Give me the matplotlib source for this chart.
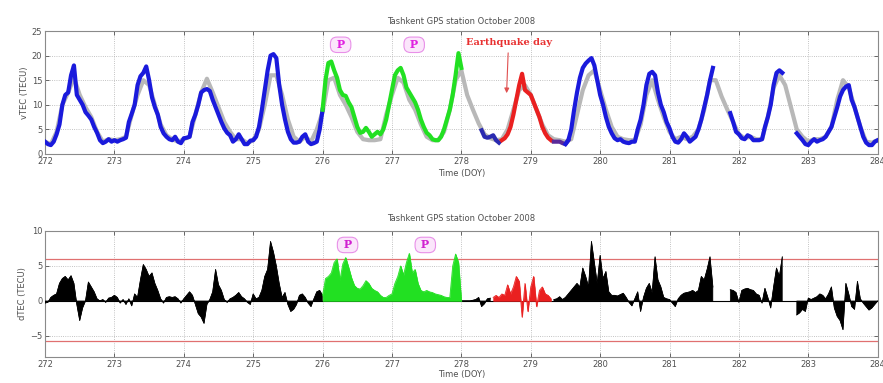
import numpy as np
import matplotlib
matplotlib.use("Agg")
import matplotlib.pyplot as plt

nan = np.nan

# vTEC hourly values, one row per day (DOY 272 ... 283, last value = 284.0)
vtec = [
    2.5, 2.0, 1.8, 2.5, 4.0, 6, 10, 12, 12.5, 16, 18, 12, 11, 10, 8.5, 7.8, 7, 5.5, 4.3, 2.8, 2.2, 2.5, 3.0, 2.5,
    2.8, 2.5, 2.8, 3.0, 3.3, 6.5, 8.2, 10, 14, 15.8, 16.5, 17.8, 15, 11.5, 9.5, 8, 5.5, 4.2, 3.5, 3.0, 2.8, 3.5, 2.5, 2.2,
    3.2, 3.3, 3.5, 6.5, 8, 10, 12.5, 13, 13.2, 12.8, 11, 9.5, 8, 6.5, 5.2, 4.3, 3.8, 2.5, 3, 4.0, 3.0, 2.0, 2.0, 2.7,
    2.8, 3.5, 5.5, 9, 13, 17, 20, 20.3, 19.5, 14, 10, 7, 4.5, 3, 2.3, 2.3, 2.5, 3.5, 4.0, 2.5, 2.0, 2.2, 2.5, 5,
    9, 15, 18.5, 18.8, 17, 15.5, 13, 12, 11.8, 10.5, 9.5, 7.5, 5.5, 4.3, 4.5, 5.3, 4.5, 3.5, 4.0, 4.5, 4.0, 5, 7, 10,
    13, 16, 17, 17.5, 16, 13.5, 12.5, 11.5, 10.5, 9, 7, 5.5, 4.3, 3.8, 3.0, 2.8, 2.8, 3.5, 5, 7, 9, 12, 16, 20.5,
    17.5, nan, nan, nan, nan, nan, nan, 4.8, 3.5, 3.3, 3.5, 3.8, 2.8, 2.3, 2.8, 3.2, 4.0, 5.5, 8, 11, 14, 16.3, 13, 12.5,
    12, 10.5, 9, 7.5, 5.5, 4.2, 3.3, 2.8, 2.5, 2.5, 2.5, 2.2, 2.0, 2.8, 5, 9, 12.5, 15.5, 17.5, 18.4, 19, 19.5, 18, 15,
    12, 10, 7.5, 5.5, 4.2, 3.2, 2.8, 3.0, 2.5, 2.3, 2.2, 2.5, 2.5, 5, 7, 10, 14, 16.3, 16.7, 16, 12.5, 10, 8.5, 6.5,
    5.2, 3.5, 2.5, 2.3, 3, 4.2, 3.5, 2.5, 3, 3.5, 5, 7, 9.5, 12, 15, 17.5, nan, nan, nan, nan, nan, 8.3, 6.5, 4.5,
    4.0, 3.2, 3.0, 3.8, 3.5, 2.8, 2.8, 2.8, 3.0, 5.5, 7.5, 10, 14, 16.5, 17, 16.5, nan, nan, nan, nan, 4.2, 3.5, 2.8, 2.0,
    1.8, 2.5, 3.0, 2.5, 2.8, 3.0, 3.5, 4.5, 5.5, 7.5, 9.5, 11.7, 13, 13.7, 14, 11, 9.5, 7.5, 5.5, 3.5, 2.3, 1.8, 1.8, 2.5,
    2.8,
]

# reference (grey) curve, every 2 hours
vtec_ref = [
    2.5, 2.0, 4.5, 10, 12.5, 15.5, 12, 9.5, 7.5, 4.5, 2.5, 3.0,
    2.8, 3.0, 3.5, 8, 12, 15, 14, 10, 6, 3.8, 3.0, 2.5,
    3.0, 3.5, 8, 12.5, 15.3, 12.5, 9.5, 6.5, 4.5, 3.0, 3.0, 2.2,
    2.8, 5, 10, 16, 16, 12, 7, 3.5, 2.5, 3.5, 2.5, 5,
    8.5, 15, 15.5, 12, 10, 7.5, 4.5, 3.0, 2.8, 2.8, 3.0, 8,
    12, 15.5, 14.5, 11, 9, 6, 3.5, 2.8, 2.8, 4.5, 9, 15,
    17, 12, 9, 6.2, 4, 3.2, 2.8, 3, 5, 9, 13, 14,
    12, 9, 6, 3.8, 3.0, 2.8, 2.5, 3.0, 8, 13, 16, 17,
    13, 9, 5.5, 3.5, 3.0, 2.8, 2.8, 6, 12, 15, 11, 7.5,
    4.5, 3.0, 3.5, 3.0, 3.5, 5, 9, 15, 15, 11.7, 9, 6.5,
    4, 3.2, 3.5, 3.0, 3.0, 7.5, 13.5, 16, 14, 9.5, 5, 3.5,
    2.5, 3.0, 3.0, 3.5, 5.5, 11, 15, 13.5, 9.5, 5.5, 2.5, 2.3,
    2.8,
]

# dTEC hourly values
dtec = [
    -0.3, -0.2, 0.5, 0.8, 1.0, 2.5, 3.2, 3.5, 3.0, 3.6, 2.5, -0.5, -2.8, -1.0, 0, 2.7, 2.0, 1.3, 0.3, 0, 0.2, -0.2, 0.4, 0.5,
    0.8, 0.5, -0.3, 0.2, -0.5, 0.3, -0.7, 1.0, 0.5, 3, 5.2, 4.5, 3.5, 4.0, 2.5, 1.5, 0.3, -0.3, 0.5, 0.6, 0.5, 0.6, 0.3, -0.3,
    0.3, 0.8, 1.3, 0.8, -0.5, -1.8, -2.3, -3.2, -0.5, 0.2, 1.3, 4.5, 2.3, 1.5, 0.2, -0.2, 0.3, 0.5, 0.8, 1.2, 0.6, 0.3, -0.2, -0.5,
    1.0, 0.3, 0.5, 1.5, 3.5, 4.5, 8.5, 7.0, 5.0, 2.5, 0.5, 1.2, -0.5, -1.5, -1.2, -0.5, 0.8, 1.0, 0.5, -0.3, -0.8, 0.3, 1.3, 1.5,
    0.8, 3.2, 3.5, 4.0, 5.5, 6.0, 3.0, 5.3, 6.2, 4.8, 3.3, 2.2, 1.8, 1.7, 2.2, 2.9, 2.5, 1.8, 1.5, 1.3, 0.8, 0.5, 0.5, 0.8,
    1.0, 2.5, 3.5, 5.0, 3.7, 5.5, 6.8, 4.0, 4.5, 2.5, 1.5, 1.3, 1.5, 1.3, 1.2, 1.0, 0.9, 0.8, 0.6, 0.5, 0.5, 5.0, 6.7, 5.5,
    0, 0, 0, 0, 0.1, 0.2, 0.5, -0.8, -0.4, 0.3, 0.4, 0.5, 0.8, 0.5, 1.0, 0.8, 2.3, 1.0, 2.0, 3.5, 2.8, -2.3, 2.5, -1.5,
    2.0, 3.5, -0.8, 1.5, 2.0, 1.0, 0.8, 0.3, 0.2, 0.3, 0.6, 0.2, 0.5, 1.0, 1.5, 2.0, 2.5, 2.0, 4.7, 3.5, 2.0, 8.5, 5.5, 2.5,
    6.5, 3.2, 4.2, 1.3, 0.8, 0.8, 0.7, 0.9, 1.1, 0.5, -0.2, -0.7, 0.3, 1.3, -1.5, 0.5, 1.8, 2.5, 1.2, 6.3, 3.0, 2.0, 0.5, 0.3,
    0.2, -0.3, -0.8, 0.3, 0.8, 1.1, 1.2, 1.3, 1.5, 1.2, 1.5, 3.5, 3.0, 4.5, 6.3, 2.0, nan, nan, nan, nan, nan, 1.6, 1.5, 1.2,
    -0.2, 1.5, 1.7, 1.8, 1.6, 1.5, 1.0, 0.8, -0.3, 1.8, 0.5, -1.0, 2.0, 4.7, 3.5, 6.3, nan, nan, nan, nan, -2.0, -1.7, -1.2, -1.5,
    0.4, 0.2, 0.4, 0.6, 1.0, 0.8, 0.3, 1.0, 2.0, -1.0, -2.2, -2.8, -4.1, 2.5, 1.0, -0.8, -1.2, 2.8, 0.3, -0.3, -0.8, -1.3, -1.0, -0.5,
    0,
]

doy_ticks = list(range(272, 285))
green_days = (276.0, 278.0)
quake_span = (278.58, 279.33)
upper_bound = 6.0
lower_bound = -5.7
title = "Tashkent GPS station October 2008"

vtec = np.array(vtec, dtype=float)
dtec = np.array(dtec, dtype=float)
t = 272 + np.arange(len(vtec)) / 24.0
t_ref = 272 + np.arange(len(vtec_ref)) / 12.0

BLUE = "#1a1adc"
GREEN = "#22e022"
RED = "#ea2020"
GREY = "#b8b8b8"
TXT = "#505050"
LW = 3.0

fig = plt.figure(figsize=(8.83, 3.83), dpi=100)
ax1 = fig.add_axes([0.051, 0.598, 0.943, 0.321])
ax2 = fig.add_axes([0.051, 0.068, 0.943, 0.329])

# ---- top panel: vTEC
ax1.plot(t_ref, vtec_ref, color=GREY, lw=LW, solid_capstyle="round", zorder=2)

def part(mask):
    return np.where(mask, vtec, nan)

g = (t >= green_days[0]) & (t <= green_days[1])
r = (t >= quake_span[0]) & (t <= quake_span[1])
ax1.plot(t, part(t <= green_days[0]), color=BLUE, lw=LW, zorder=3)
ax1.plot(t, part(g), color=GREEN, lw=LW, zorder=3)
ax1.plot(t, part((t >= green_days[1]) & (t <= quake_span[0])), color="#2a2ab0", lw=LW, zorder=3)
ax1.plot(t, part(r), color=RED, lw=LW, zorder=3)
ax1.plot(t, part((t >= quake_span[1]) & (t <= 279.55)), color="#5a2a9a", lw=LW, zorder=3)
ax1.plot(t, part(t >= 279.5), color=BLUE, lw=LW, zorder=3)

ax1.set_ylim(0, 25)
ax1.set_yticks([0, 5, 10, 15, 20, 25])
ax1.set_ylabel("vTEC (TECU)", fontsize=6, color=TXT, labelpad=2)
ax1.set_xlabel("Time (DOY)", fontsize=6, color=TXT, labelpad=2)
ax1.set_title(title, fontsize=6, color=TXT, pad=5)

pbox = dict(boxstyle="round,pad=0.2,rounding_size=0.6", fc="#fbe6fb", ec="#e890e8", lw=0.8)
for x in (276.26, 277.32):
    ax1.text(x, 22.2, " P ", fontsize=8, color="#e020e0", family="serif", fontweight="bold",
             ha="center", va="center", bbox=pbox)
ax1.annotate("Earthquake day", xy=(278.65, 11.8), xytext=(278.68, 22.6),
             fontsize=7, color="#e83030", family="serif", fontweight="bold",
             ha="center", va="center",
             arrowprops=dict(arrowstyle="-|>", color="#e05050", lw=0.8, mutation_scale=7))

# ---- bottom panel: dTEC
ok = np.isfinite(dtec)
green_m = (t >= green_days[0]) & (t <= green_days[1])
red_m = (t >= 278.45) & (t <= 279.33)
black_m = ~(green_m | red_m) | (t == green_days[0]) | (t == green_days[1])
for m, c in ((black_m, "black"), (green_m, GREEN), (red_m, RED)):
    ax2.fill_between(t, 0, np.nan_to_num(dtec), where=m & ok, color=c, lw=0.4, interpolate=False, zorder=3)
    ax2.plot(t, np.where(m & ok, dtec, nan), color=c, lw=0.6, zorder=3)
ax2.axhline(0, color="black", lw=0.8, zorder=2)
ax2.axhline(upper_bound, color="#e07070", lw=0.9, zorder=2)
ax2.axhline(lower_bound, color="#e07070", lw=0.9, zorder=2)

ax2.set_ylim(-8, 10)
ax2.set_yticks([-5, 0, 5, 10])
ax2.set_ylabel("dTEC (TECU)", fontsize=6, color=TXT, labelpad=2)
ax2.set_xlabel("Time (DOY)", fontsize=6, color=TXT, labelpad=1)
ax2.set_title(title, fontsize=6, color=TXT, pad=7)

for x in (276.36, 277.48):
    ax2.text(x, 8.0, " P ", fontsize=8, color="#d020d0", family="serif", fontweight="bold",
             ha="center", va="center", bbox=pbox)

for ax in (ax1, ax2):
    ax.set_xlim(272, 284)
    ax.set_xticks(doy_ticks)
    ax.tick_params(direction="in", top=True, right=True, labelsize=6, length=3,
                   width=0.6, colors=TXT, pad=2)
    ax.grid(True, linestyle=":", color="#b0b0b0", lw=0.6)
    for s in ax.spines.values():
        s.set_color("#8a8a8a")
        s.set_linewidth(0.8)

fig.savefig("out.png", dpi=100)
